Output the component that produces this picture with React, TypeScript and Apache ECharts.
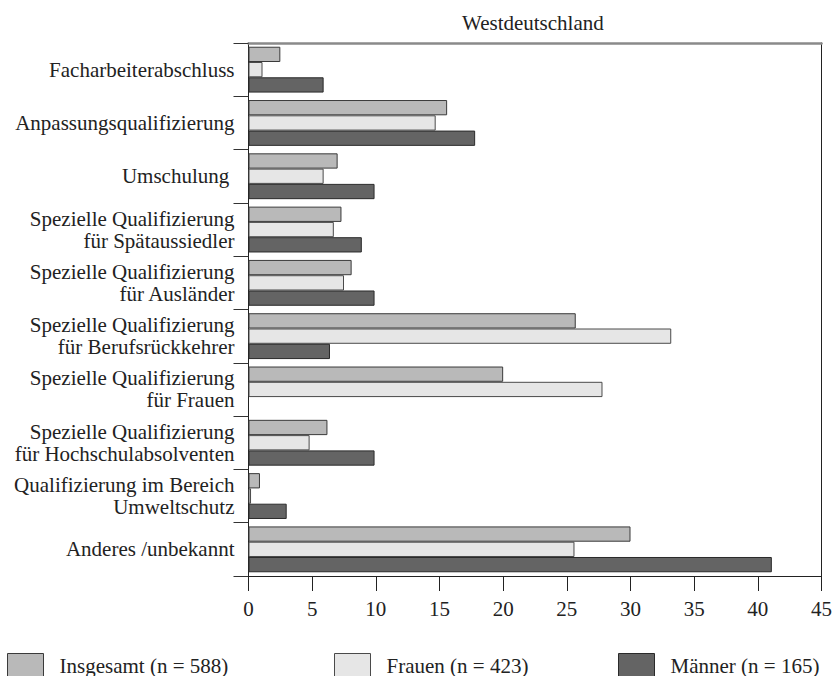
import React, { useEffect, useRef } from "react";
import * as echarts from "echarts";

const categories = [
  "Facharbeiterabschluss",
  "Anpassungsqualifizierung",
  "Umschulung ",
  "Spezielle Qualifizierung\nfür Spätaussiedler",
  "Spezielle Qualifizierung\nfür Ausländer",
  "Spezielle Qualifizierung\nfür Berufsrückkehrer",
  "Spezielle Qualifizierung\nfür Frauen",
  "Spezielle Qualifizierung\nfür Hochschulabsolventen",
  "Qualifizierung im Bereich\nUmweltschutz",
  "Anderes /unbekannt",
];

const seriesNames = ["Insgesamt (n = 588)", "Frauen (n = 423)", "Männer (n = 165)"];

const insgesamt = [2.5, 15.6, 7.0, 7.3, 8.1, 25.7, 20.0, 6.2, 0.9, 30.0];
const frauen = [1.1, 14.7, 5.9, 6.7, 7.5, 33.2, 27.8, 4.8, 0.2, 25.6];
const maenner: (number | null)[] = [5.9, 17.8, 9.9, 8.9, 9.9, 6.4, null, 9.9, 3.0, 41.1];

const xTicks = { min: 0, max: 45, interval: 5 };
const title = "Westdeutschland";

const FONT = "'Liberation Serif', 'DejaVu Serif', serif";
const TEXT = "#222";

export default function App() {
  const ref = useRef<HTMLDivElement>(null);
  useEffect(() => {
    document.body.style.margin = "0";
    if (!ref.current) return;
    const chart = echarts.init(ref.current, undefined, { renderer: "svg" });
    const fills = ["#b9b9b9", "#e6e6e6", "#646464"];
    const borders = ["#3a3a3a", "#4a4a4a", "#2a2a2a"];
    const datasets = [insgesamt, frauen, maenner];
    const legendLefts = [7, 334, 618];
    chart.setOption({
      animation: false,
      title: {
        text: title,
        left: 462,
        top: 12,
        padding: 0,
        textStyle: { fontFamily: FONT, fontSize: 21, fontWeight: "normal", color: TEXT },
      },
      legend: seriesNames.map((n, i) => ({
        data: [n],
        left: legendLefts[i],
        top: 653,
        padding: 0,
        itemWidth: 36,
        itemHeight: 24,
        icon: "rect",
        selectedMode: false,
        itemStyle: { borderColor: borders[i], borderWidth: 1 },
        textStyle: {
          fontFamily: FONT,
          fontSize: 21,
          lineHeight: 20,
          color: TEXT,
          padding: [0, 0, 0, 11],
        },
      })),
      grid: { left: 248.5, right: 12, top: 43, bottom: 100, containLabel: false },
      xAxis: [
        {
          type: "value",
          min: xTicks.min,
          max: xTicks.max,
          interval: xTicks.interval,
          position: "bottom",
          splitLine: { show: false },
          axisLine: { show: true, onZero: false, lineStyle: { color: "#222", width: 1 } },
          axisTick: { show: true, length: 15, lineStyle: { color: "#222" } },
          axisLabel: { fontFamily: FONT, fontSize: 21, color: TEXT, margin: 22 },
        },
        {
          type: "value",
          min: xTicks.min,
          max: xTicks.max,
          position: "top",
          splitLine: { show: false },
          axisLine: { show: true, onZero: false, lineStyle: { color: "#8a8a8a", width: 2.5 } },
          axisTick: { show: false },
          axisLabel: { show: false },
        },
      ],
      yAxis: [
        {
          type: "category",
          data: categories,
          inverse: true,
          position: "left",
          axisLine: { show: true, onZero: false, lineStyle: { color: "#222", width: 1 } },
          axisTick: { show: true, length: 15, alignWithLabel: false, lineStyle: { color: "#333" } },
          axisLabel: {
            fontFamily: FONT,
            fontSize: 21,
            lineHeight: 22,
            color: TEXT,
            margin: 14,
            align: "right",
          },
        },
        {
          type: "value",
          position: "right",
          min: 0,
          max: 1,
          splitLine: { show: false },
          axisLine: { show: true, onZero: false, lineStyle: { color: "#222", width: 1 } },
          axisTick: { show: false },
          axisLabel: { show: false },
        },
      ],
      series: seriesNames.map((n, i) => ({
        name: n,
        type: "bar",
        xAxisIndex: 0,
        yAxisIndex: 0,
        data: datasets[i],
        barGap: "0%",
        barCategoryGap: "14%",
        itemStyle: { color: fills[i], borderColor: borders[i], borderWidth: 1 },
        emphasis: { disabled: true },
      })),
    });
    return () => chart.dispose();
  }, []);
  return <div ref={ref} style={{ width: 835, height: 676 }} />;
}
